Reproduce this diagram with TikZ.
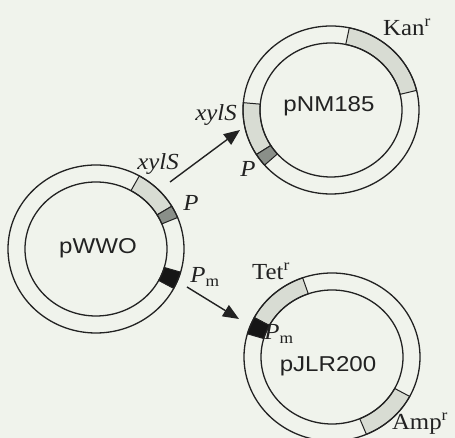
\documentclass[tikz,border=0pt]{standalone}
\usepackage{fontspec}
\setmainfont{Liberation Serif}[FakeStretch=1.08]
\newfontfamily\plsf{Liberation Sans}[FakeStretch=1.12]
\usetikzlibrary{arrows.meta,calc}
\definecolor{bgc}{HTML}{F0F3EC}
\definecolor{lightseg}{HTML}{D8DCD3}
\definecolor{midseg}{HTML}{8A8F89}
\definecolor{darkseg}{HTML}{161616}
\definecolor{inkc}{HTML}{222222}
\newcommand\ringseg[4]{%
  \filldraw[fill=#4,draw=inkc,line width=1pt]
    ($(#1)+(#2:88pt and 84pt)$) arc[start angle=#2,end angle=#3,x radius=88pt,y radius=84pt]
    -- ($(#1)+(#3:71pt and 67pt)$) arc[start angle=#3,end angle=#2,x radius=71pt,y radius=67pt]
    -- cycle;}
\newcommand\ringouter[1]{%
  \draw[inkc,line width=1.3pt] (#1) ellipse[x radius=88pt,y radius=84pt];
  \draw[inkc,line width=1.3pt] (#1) ellipse[x radius=71pt,y radius=67pt];}
\begin{document}
\begin{tikzpicture}[x=1pt,y=1pt,
  serlab/.style={inner sep=0pt,font=\fontsize{23}{26}\selectfont,text=inkc},
  sanlab/.style={inner sep=0pt,font=\plsf\fontsize{21.5}{25}\selectfont,text=inkc},
  arr/.style={inkc,line width=1.4pt,-{Triangle[length=16pt,width=13pt]}}]
\fill[bgc] (0,0) rectangle (455,438);
\useasboundingbox (0,0) rectangle (455,438);
\coordinate (cw) at (96,189);
\coordinate (cn) at (331,328);
\coordinate (cj) at (332,81);
% pWWO
\ringseg{cw}{30.6}{60.5}{lightseg}
\ringseg{cw}{22}{30.6}{midseg}
\ringseg{cw}{-28}{-16}{darkseg}
\ringouter{cw}
% pNM185
\ringseg{cn}{13.5}{78}{lightseg}
\ringseg{cn}{175}{212}{lightseg}
\ringseg{cn}{212}{221}{midseg}
\ringouter{cn}
% pJLR200
\ringseg{cj}{109.5}{152}{lightseg}
\ringseg{cj}{152}{164}{darkseg}
\ringseg{cj}{-67}{-28}{lightseg}
\ringouter{cj}
% labels
\node[sanlab] (lw) at (98,190) {pWWO};
\node[sanlab] (ln) at (329,332) {pNM185};
\node[sanlab] (lj) at (328,72) {pJLR200};
\node[serlab] (xw) at (158,274) {\textit{xylS}};
\node[serlab] (pw) at (191,235) {\textit{P}};
\node[serlab] (mw) at (205,161) {\textit{P}\textsubscript{m}};
\node[serlab] (xn) at (216,323) {\textit{xylS}};
\node[serlab] (pn) at (248,269) {\textit{P}};
\node[serlab] (kn) at (407,411) {Kan\textsuperscript{r}};
\node[serlab] (tj) at (271,167) {Tet\textsuperscript{r}};
\node[serlab] (mj) at (279,104) {\textit{P}\textsubscript{m}};
\node[serlab] (aj) at (420,14) {Amp\textsuperscript{r}};
% arrows
\coordinate (a1s) at (170,256);
\coordinate (a1e) at (240,308);
\coordinate (a2s) at (187,151);
\coordinate (a2e) at (239,119);
\draw[arr] (a1s) -- (a1e);
\draw[arr] (a2s) -- (a2e);
\end{tikzpicture}
\end{document}
